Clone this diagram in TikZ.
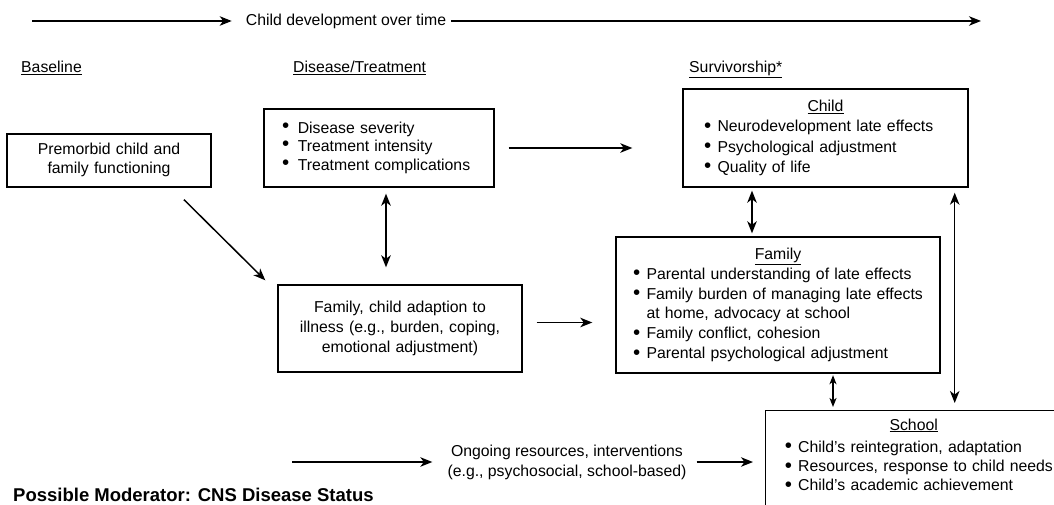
\documentclass[tikz,border=0pt]{standalone}
\usepackage{fontspec}
\setmainfont{Liberation Sans}
\usetikzlibrary{arrows.meta,calc}

\newcommand\bul{\raisebox{-0.6pt}{\scalebox{1.3}{\textbullet}}}
\newcommand\bl[1]{\mbox{\strut\makebox[12.5pt][l]{\hspace*{-0.8pt}\bul}#1}}
\newcommand\blc[1]{\mbox{\strut\hspace*{12.5pt}#1}}
\newcommand\ttl[2]{\mbox{\strut\makebox[#1]{\underline{#2}}}}
\newcommand\dbl[1]{\mbox{\strut\makebox[15.8pt][l]{\raisebox{1.5pt}{\bul}}#1}}

\begin{document}
\begin{tikzpicture}[x=1pt,y=-1pt,
  >={Stealth[length=12pt,width=9.5pt,inset=3.5pt]},
  every node/.style={font=\fontsize{15.8}{20}\selectfont},
  box/.style={draw, line width=1.4pt, inner ysep=0pt},
  arr/.style={line width=1.5pt, ->},
  darr/.style={line width=1.5pt, <->},
  sdarr/.style={line width=1.5pt, {Stealth[length=9pt,width=7pt,inset=2.5pt]}-{Stealth[length=9pt,width=7pt,inset=2.5pt]}},
  head/.style={anchor=base west, inner sep=0pt}]
\useasboundingbox (0,0) rectangle (1054,505);

% timeline
\node[inner sep=0pt] (tline) at (346,21) {Child development over time};
\coordinate (tstart) at (32,21);
\coordinate (tend) at (981,21);
\draw[arr, shorten >=14pt] (tstart) -- (tstart -| tline.west);
\draw[arr, shorten <=5pt] (tline.east |- tend) -- (tend);

% headings
\node[head] (hbase) at (21,73) {\underline{Baseline}};
\node[head] (hdis) at (293,73) {\underline{Disease/Treatment}};
\node[head] (hsurv) at (689,73) {\underline{Survivorship*}};

% boxes
\node[box, align=center, text width=180pt, inner xsep=12pt, minimum height=53pt,
  font=\fontsize{15.8}{19}\selectfont] (premorbid) at (109,160.5)
  {\strut Premorbid child and\\\strut family functioning};

\node[box, align=left, text width=194pt, inner xsep=18pt, minimum height=78pt,
  font=\fontsize{15.8}{18.5}\selectfont] (disease) at (379,148)
  {\dbl{Disease severity}\\\dbl{Treatment intensity}\\\dbl{Treatment complications}};

\node[box, align=center, text width=220pt, inner xsep=12pt, minimum height=87pt,
  font=\fontsize{15.8}{20}\selectfont] (adapt) at (400,328.5)
  {\strut Family, child adaption to\\\strut illness (e.g., burden, coping,\\\strut emotional adjustment)};

\node[box, align=left, text width=241pt, inner xsep=22pt, minimum height=98pt,
  font=\fontsize{15.8}{20.2}\selectfont] (child) at (825.5,138)
  {\ttl{241pt}{Child}\\\bl{Neurodevelopment late effects}\\\bl{Psychological adjustment}\\\bl{Quality of life}};

\node[box, align=left, text width=288pt, inner xsep=18pt, minimum height=136pt,
  font=\fontsize{15.8}{19.8}\selectfont] (family) at (778,305)
  {\ttl{288pt}{Family}\\\bl{Parental understanding of late effects}\\\bl{Family burden of managing late effects}\\\blc{at home, advocacy at school}\\\bl{Family conflict, cohesion}\\\bl{Parental psychological adjustment}};

\begin{scope}
\clip (0,0) rectangle (1054,505);
\node[box, align=left, anchor=north west, text width=300pt, inner xsep=20pt, inner ysep=6pt,
  font=\fontsize{15.8}{19.2}\selectfont] (school) at (765,410)
  {\ttl{256pt}{School}\\[3pt]\bl{Child's reintegration, adaptation}\\\bl{Resources, response to child needs}\\\bl{Child's academic achievement}\\\rule{0pt}{30pt}};
\end{scope}

% other text
\node[align=center, inner sep=0pt] (ongoing) at (567,462)
  {Ongoing resources, interventions\\(e.g., psychosocial, school-based)};
\node[anchor=west, inner sep=0pt, font=\fontsize{18.5}{22}\selectfont\bfseries] (moderator) at (13,495)
  {Possible Moderator: CNS Disease Status};

% connectors
\draw[arr, shorten <=14pt, shorten >=50pt] (disease.east) -- (disease.east -| child.west);
\draw[arr] ([shift={(75,12)}]premorbid.south) -- ([shift={(-12,-4)}]adapt.north west);
\coordinate (dA) at ([xshift=7pt]disease.south);
\draw[darr, shorten <=6pt, shorten >=17pt] (dA) -- (dA |- adapt.north);
\coordinate (aF) at ([yshift=6pt]adapt.east);
\draw[arr, shorten <=14pt, shorten >=23pt] (aF) -- (aF -| family.west);
\coordinate (cF) at ([xshift=-73.5pt]child.south);
\draw[darr, shorten <=3pt, shorten >=3pt] (cF) -- (cF |- family.north);
\coordinate (fS) at ([xshift=55pt]family.south);
\draw[sdarr, shorten <=1.5pt, shorten >=3pt] (fS) -- (fS |- school.north);
\coordinate (cS) at ([xshift=-14pt]child.south east);
\draw[darr, shorten <=5pt, shorten >=7pt] (cS) -- (cS |- school.north);
\coordinate (oStart) at (292,462);
\draw[arr, shorten >=15pt] (oStart) -- (ongoing.west);
\draw[arr, shorten <=10pt, shorten >=12pt] (ongoing.east) -- (ongoing.east -| school.west);
\end{tikzpicture}
\end{document}
